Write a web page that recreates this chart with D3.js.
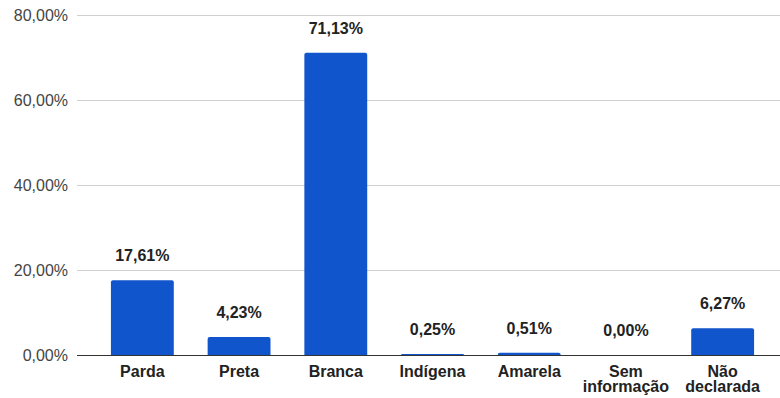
<!DOCTYPE html>
<html>
<head>
<meta charset="utf-8">
<script src="https://cdn.jsdelivr.net/npm/d3@7"></script>
<style>
  html, body { margin: 0; padding: 0; background: #fff; }
  svg { display: block; font-family: "Liberation Sans", Arial, sans-serif; }
</style>
</head>
<body>
<svg id="chart" width="780" height="398"></svg>
<script>
// Population share by race/colour
const categories = ["Parda", "Preta", "Branca", "Indígena", "Amarela", "Sem\ninformação", "Não\ndeclarada"];
const values = [17.61, 4.23, 71.13, 0.25, 0.51, 0.00, 6.27];
const yTicks = [0, 20, 40, 60, 80];

const svg = d3.select("#chart");
const margin = { left: 77, right: 0, top: 15, bottom: 43 };
const W = 780, H = 398;
const baseY = H - margin.bottom;

const fmt = v => d3.format(".2f")(v).replace(".", ",") + "%";

const y = d3.scaleLinear().domain([0, 80]).range([baseY, margin.top]);
const x = d3.scaleBand().domain(categories).range([94, 771]).paddingInner(0.35).paddingOuter(0.175);

// Gridlines and y tick labels
const yAxis = d3.axisLeft(y).tickValues(yTicks).tickSize(-(W - margin.left)).tickFormat(fmt).tickPadding(9);
const gy = svg.append("g").attr("transform", `translate(${margin.left},0)`).call(yAxis);
gy.select(".domain").remove();
gy.selectAll(".tick line").attr("stroke", "#d0d0d0").attr("stroke-width", 1);
gy.selectAll(".tick text").attr("fill", "#444").style("font-size", "16px").attr("x", -9)
  .style("font-family", "'Liberation Sans', Arial, sans-serif");

// Bars
svg.append("g").selectAll("path").data(values).join("path")
  .attr("fill", "#1155cc")
  .attr("d", (d, i) => {
    const x0 = x(categories[i]), w = x.bandwidth();
    const top = y(d), h = baseY - top;
    if (h <= 0) return "";
    const r = Math.min(2, h);
    return `M${x0},${baseY}V${top + r}Q${x0},${top} ${x0 + r},${top}H${x0 + w - r}Q${x0 + w},${top} ${x0 + w},${top + r}V${baseY}Z`;
  });

// Baseline
svg.append("line").attr("x1", margin.left).attr("x2", W).attr("y1", baseY + 0.5).attr("y2", baseY + 0.5)
  .attr("stroke", "#333").attr("stroke-width", 1);

// Value labels
svg.append("g").selectAll("text").data(values).join("text")
  .attr("x", (d, i) => x(categories[i]) + x.bandwidth() / 2)
  .attr("y", d => y(d) - 19)
  .attr("text-anchor", "middle")
  .attr("fill", "#222")
  .style("font-size", "16px").style("font-weight", "bold")
  .text(d => fmt(d));

// Category labels (two lines where needed)
const xl = svg.append("g").selectAll("text").data(categories).join("text")
  .attr("x", d => x(d) + x.bandwidth() / 2)
  .attr("y", baseY + 22)
  .attr("text-anchor", "middle")
  .attr("fill", "#222")
  .style("font-size", "16px").style("font-weight", "bold");
xl.each(function(d) {
  const lines = d.split("\n");
  const t = d3.select(this);
  lines.forEach((s, k) => {
    t.append("tspan").attr("x", x(d) + x.bandwidth() / 2).attr("dy", k === 0 ? 0 : 15).text(s);
  });
});
</script>
</body>
</html>
